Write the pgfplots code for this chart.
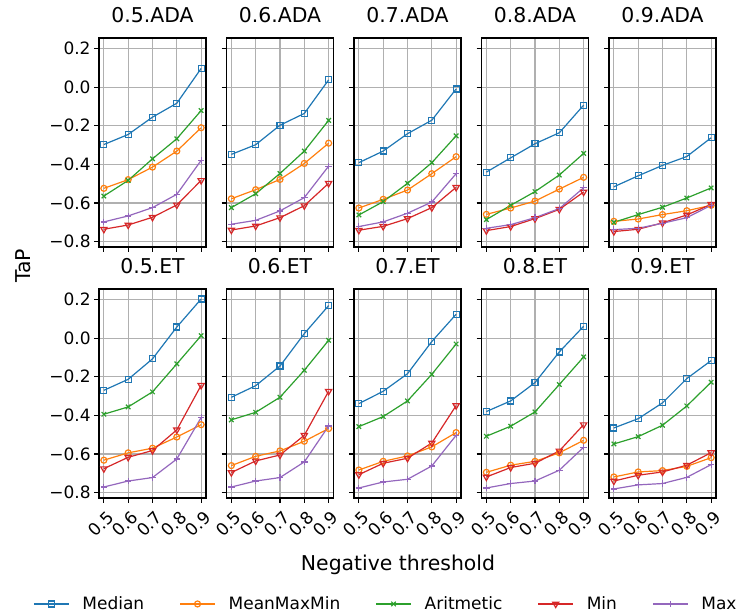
\documentclass[border=0pt]{standalone}
\usepackage{pgfplots}
\pgfplotsset{compat=1.18}
\usepackage{pgfplotstable}
\usepackage{fontspec}
\setmainfont{DejaVu Sans}

\definecolor{cA}{HTML}{1F77B4}
\definecolor{cB}{HTML}{FF7F0E}
\definecolor{cC}{HTML}{2CA02C}
\definecolor{cD}{HTML}{D62728}
\definecolor{cE}{HTML}{9467BD}
\definecolor{gridc}{HTML}{B0B0B0}

% columns: x, Median, MeanMaxMin, Aritmetic, Min, Max
\pgfplotstableread{
x   med    mmm    ari    mn     mx
0.5 -0.297 -0.524 -0.564 -0.736 -0.698
0.6 -0.245 -0.479 -0.483 -0.714 -0.667
0.7 -0.155 -0.414 -0.371 -0.674 -0.624
0.8 -0.083 -0.331 -0.267 -0.610 -0.555
0.9  0.097 -0.210 -0.121 -0.483 -0.379
}\tAa
\pgfplotstableread{
x   med    mmm    ari    mn     mx
0.5 -0.348 -0.578 -0.624 -0.740 -0.710
0.6 -0.298 -0.531 -0.552 -0.719 -0.690
0.7 -0.197 -0.478 -0.447 -0.676 -0.641
0.8 -0.136 -0.395 -0.331 -0.614 -0.572
0.9  0.038 -0.290 -0.172 -0.498 -0.409
}\tAb
\pgfplotstableread{
x   med    mmm    ari    mn     mx
0.5 -0.391 -0.626 -0.662 -0.741 -0.722
0.6 -0.331 -0.581 -0.593 -0.721 -0.698
0.7 -0.241 -0.533 -0.498 -0.681 -0.653
0.8 -0.171 -0.448 -0.391 -0.624 -0.595
0.9 -0.009 -0.360 -0.252 -0.519 -0.448
}\tAc
\pgfplotstableread{
x   med    mmm    ari    mn     mx
0.5 -0.440 -0.659 -0.686 -0.743 -0.731
0.6 -0.366 -0.626 -0.612 -0.722 -0.712
0.7 -0.293 -0.590 -0.541 -0.681 -0.676
0.8 -0.236 -0.528 -0.455 -0.633 -0.629
0.9 -0.093 -0.467 -0.343 -0.543 -0.521
}\tAd
\pgfplotstableread{
x   med    mmm    ari    mn     mx
0.5 -0.516 -0.695 -0.700 -0.748 -0.738
0.6 -0.459 -0.683 -0.660 -0.736 -0.731
0.7 -0.405 -0.660 -0.622 -0.703 -0.705
0.8 -0.359 -0.640 -0.574 -0.662 -0.676
0.9 -0.262 -0.612 -0.522 -0.607 -0.612
}\tAe
\pgfplotstableread{
x   med    mmm    ari    mn     mx
0.5 -0.270 -0.632 -0.394 -0.676 -0.771
0.6 -0.213 -0.594 -0.356 -0.617 -0.740
0.7 -0.107 -0.570 -0.278 -0.582 -0.722
0.8  0.058 -0.512 -0.133 -0.475 -0.626
0.9  0.203 -0.448  0.013 -0.244 -0.411
}\tBa
\pgfplotstableread{
x   med    mmm    ari    mn     mx
0.5 -0.306 -0.660 -0.423 -0.696 -0.771
0.6 -0.246 -0.612 -0.384 -0.636 -0.740
0.7 -0.144 -0.584 -0.306 -0.605 -0.722
0.8  0.024 -0.534 -0.166 -0.503 -0.641
0.9  0.169 -0.468 -0.011 -0.275 -0.455
}\tBb
\pgfplotstableread{
x   med    mmm    ari    mn     mx
0.5 -0.339 -0.683 -0.458 -0.707 -0.776
0.6 -0.275 -0.638 -0.406 -0.648 -0.745
0.7 -0.184 -0.610 -0.325 -0.622 -0.731
0.8 -0.017 -0.563 -0.187 -0.543 -0.662
0.9  0.124 -0.489 -0.030 -0.349 -0.503
}\tBc
\pgfplotstableread{
x   med    mmm    ari    mn     mx
0.5 -0.380 -0.695 -0.508 -0.719 -0.776
0.6 -0.325 -0.658 -0.456 -0.670 -0.753
0.7 -0.230 -0.638 -0.382 -0.648 -0.740
0.8 -0.071 -0.594 -0.240 -0.584 -0.684
0.9  0.062 -0.529 -0.097 -0.448 -0.565
}\tBd
\pgfplotstableread{
x   med    mmm    ari    mn     mx
0.5 -0.465 -0.719 -0.548 -0.740 -0.781
0.6 -0.417 -0.693 -0.510 -0.710 -0.760
0.7 -0.335 -0.686 -0.451 -0.693 -0.753
0.8 -0.209 -0.664 -0.351 -0.658 -0.721
0.9 -0.116 -0.619 -0.228 -0.593 -0.655
}\tBe

\pgfplotsset{
  panel/.style={
    scale only axis, width=107pt, height=209pt,
    xmin=0.48, xmax=0.92, ymin=-0.828, ymax=0.255,
    xtick={0.5,0.6,0.7,0.8,0.9},
    ytick={-0.8,-0.6,-0.4,-0.2,0,0.2},
    xticklabels={}, yticklabels={},
    xtick pos=left, ytick pos=left,
    tick align=outside, major tick length=4.9pt,
    every tick/.style={black, line width=1.1pt},
    axis line style={line width=1.1pt},
    grid=major, grid style={color=gridc, line width=1.1pt},
    title style={font=\fontsize{20.4}{24}\selectfont, at={(0.5,1)}, anchor=base, yshift=9.5pt},
    tick label style={font=\fontsize{17}{20}\selectfont},
    /pgf/number format/assume math mode=true,
    legend image code/.code={\draw[mark repeat=2,mark phase=2,##1] plot coordinates {(0pt,0pt) (17.5pt,0pt) (35pt,0pt)};},
  },
  yl/.style={yticklabels={−0.8,−0.6,−0.4,−0.2,0.0,0.2}},
  xl/.style={xticklabels={0.5,0.6,0.7,0.8,0.9},
    xticklabel style={yshift=-21pt, xshift=-3pt, rotate=45, anchor=center}},
  sMed/.style={color=cA, line width=1.2pt, mark=square, mark size=3pt, mark options={solid}},
  sMmm/.style={color=cB, line width=1.2pt, mark=o, mark size=3pt, mark options={solid}},
  sAri/.style={color=cC, line width=1.2pt, mark=x, mark size=3.2pt, mark options={solid}},
  sMin/.style={color=cD, line width=1.2pt, mark=triangle, mark size=3.6pt, mark options={solid, rotate=180}},
  sMax/.style={color=cE, line width=1.2pt, mark=+, mark size=3.2pt, mark options={solid}},
}

\newcommand\panel[5]{%
\begin{axis}[panel, at={(#1pt,#2pt)}, anchor=north west, title={#4}, #5]
\addplot[sMed] table[x=x,y=med]{#3};
\addplot[sMmm] table[x=x,y=mmm]{#3};
\addplot[sAri] table[x=x,y=ari]{#3};
\addplot[sMin] table[x=x,y=mn]{#3};
\addplot[sMax] table[x=x,y=mx]{#3};
\end{axis}}

\begin{document}
\begin{tikzpicture}
\useasboundingbox (0pt,0pt) rectangle (739pt,-615pt);
\panel{99}{-38}{\tAa}{0.5.ADA}{yl}
\panel{226.5}{-38}{\tAb}{0.6.ADA}{}
\panel{354}{-38}{\tAc}{0.7.ADA}{}
\panel{481.5}{-38}{\tAd}{0.8.ADA}{}
\panel{609}{-38}{\tAe}{0.9.ADA}{}
\panel{99}{-289}{\tBa}{0.5.ET}{yl, xl,
  legend entries={Median,MeanMaxMin,Aritmetic,Min,Max},
  legend columns=5,
  legend style={at={(-0.6168,-0.507)}, anchor=west, draw=none, fill=none, inner sep=0pt,
    font=\fontsize{17}{20}\selectfont, nodes={inner sep=2pt},
    /tikz/every odd column/.append style={column sep=11pt},
    /tikz/every even column/.append style={column sep=33.2pt}}}
\panel{226.5}{-289}{\tBb}{0.6.ET}{xl}
\panel{354}{-289}{\tBc}{0.7.ET}{xl}
\panel{481.5}{-289}{\tBd}{0.8.ET}{xl}
\panel{609}{-289}{\tBe}{0.9.ET}{xl}
\node[rotate=90, font=\fontsize{20.4}{24}\selectfont] at (23pt,-266pt) {TaP};
\node[font=\fontsize{20.4}{24}\selectfont] at (398pt,-565pt) {Negative threshold};
\end{tikzpicture}
\end{document}
